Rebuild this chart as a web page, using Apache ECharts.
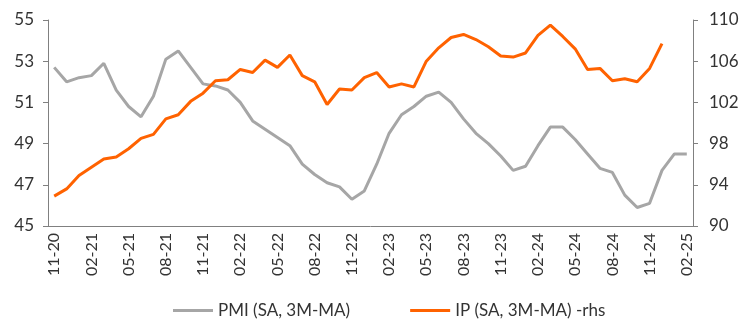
<!DOCTYPE html>
<html>
<head>
<meta charset="utf-8">
<script src="https://cdn.jsdelivr.net/npm/echarts@6/dist/echarts.min.js"></script>
<style>
html,body{margin:0;padding:0;background:#fff;}
#chart{width:744px;height:330px;}
</style>
</head>
<body>
<div id="chart"></div>
<script>
// Months Nov 2020 .. Feb 2025
const startYear = 2020, startMonth = 11, nMonths = 52;
const months = [];
for (let i = 0; i < nMonths; i++) {
  const m = (startMonth - 1 + i) % 12 + 1;
  const y = startYear + Math.floor((startMonth - 1 + i) / 12);
  months.push(String(m).padStart(2, '0') + '-' + String(y % 100).padStart(2, '0'));
}

const pmi = [52.7, 52.0, 52.2, 52.3, 52.9, 51.6, 50.8, 50.3, 51.3, 53.1,
             53.5, 52.7, 51.9, 51.8, 51.6, 51.0, 50.1, 49.7, 49.3, 48.9,
             48.0, 47.5, 47.1, 46.9, 46.3, 46.7, 48.0, 49.5, 50.4, 50.8,
             51.3, 51.5, 51.0, 50.2, 49.5, 49.0, 48.4, 47.7, 47.9, 48.9,
             49.8, 49.8, 49.2, 48.5, 47.8, 47.6, 46.5, 45.9, 46.1, 47.7,
             48.5, 48.5];

const ip = [92.9, 93.6, 94.9, 95.7, 96.5, 96.7, 97.5, 98.5, 98.9, 100.4,
            100.8, 102.1, 102.9, 104.1, 104.2, 105.2, 104.9, 106.1, 105.4, 106.6,
            104.6, 104.0, 101.8, 103.3, 103.2, 104.4, 104.9, 103.5, 103.8, 103.5,
            106.0, 107.3, 108.3, 108.6, 108.1, 107.4, 106.5, 106.4, 106.8, 108.5,
            109.5, 108.4, 107.2, 105.2, 105.3, 104.1, 104.3, 104.0, 105.3, 107.7,
            null, null];

const leftTicks = {min: 45, max: 55, interval: 2};
const rightTicks = {min: 90, max: 110, interval: 4};
const seriesNames = ['PMI (SA, 3M-MA)', 'IP (SA, 3M-MA) -rhs'];

const FONT = 'Lato';
const TXT = '#333';
const AX = '#808080';

const chart = echarts.init(document.getElementById('chart'), null, {renderer: 'canvas'});
chart.setOption({
  animation: false,
  textStyle: {fontFamily: FONT},
  grid: {left: 48, right: 51, top: 20, bottom: 104, containLabel: false},
  legend: {
    bottom: 6, left: 168,
    itemWidth: 40, itemHeight: 3, itemGap: 60,
    icon: 'rect',
    textStyle: {fontFamily: FONT, fontSize: 17, color: TXT},
    data: seriesNames
  },
  xAxis: {
    type: 'category',
    data: months,
    boundaryGap: true,
    axisLine: {lineStyle: {color: AX, width: 1}},
    axisTick: {interval: 2, length: 5, lineStyle: {color: AX}},
    axisLabel: {interval: 2, rotate: 90, fontSize: 16, color: TXT, margin: 7, fontFamily: FONT}
  },
  yAxis: [
    {
      type: 'value', position: 'left',
      min: leftTicks.min, max: leftTicks.max, interval: leftTicks.interval,
      splitLine: {show: false},
      axisLine: {show: true, lineStyle: {color: AX}},
      axisTick: {show: true, length: 5, lineStyle: {color: AX}},
      axisLabel: {fontSize: 17, color: TXT, margin: 14, fontFamily: FONT}
    },
    {
      type: 'value', position: 'right',
      min: rightTicks.min, max: rightTicks.max, interval: rightTicks.interval,
      splitLine: {show: false},
      axisLine: {show: true, lineStyle: {color: AX}},
      axisTick: {show: true, length: 5, lineStyle: {color: AX}},
      axisLabel: {fontSize: 17, color: TXT, margin: 16, fontFamily: FONT}
    }
  ],
  series: [
    {
      name: seriesNames[0], type: 'line', yAxisIndex: 0, data: pmi,
      symbol: 'none', color: '#a6a6a6',
      lineStyle: {width: 3, color: '#a6a6a6'}
    },
    {
      name: seriesNames[1], type: 'line', yAxisIndex: 1, data: ip,
      symbol: 'none', color: '#ff6200',
      lineStyle: {width: 3, color: '#ff6200'}
    }
  ]
});
</script>
</body>
</html>
